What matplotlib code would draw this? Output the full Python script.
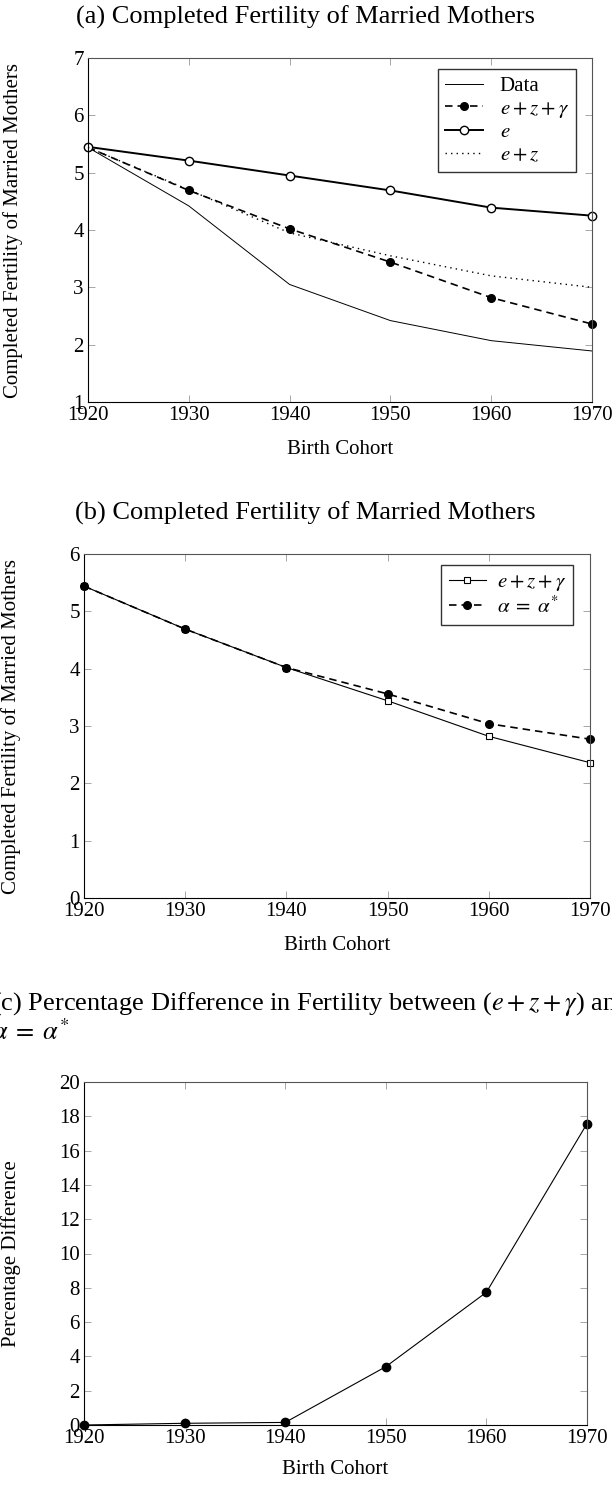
import matplotlib.pyplot as plt

plt.rcParams['font.family'] = ['Liberation Serif', 'DejaVu Serif']
plt.rcParams['mathtext.fontset'] = 'stix'

cohorts = [1920, 1930, 1940, 1950, 1960, 1970]
data_fert = [5.44, 4.42, 3.05, 2.42, 2.07, 1.89]
ezg_fert = [5.44, 4.69, 4.02, 3.44, 2.82, 2.36]
e_fert = [5.45, 5.21, 4.95, 4.69, 4.39, 4.25]
ez_fert = [5.44, 4.70, 3.95, 3.55, 3.20, 3.00]
alpha_fert = [5.44, 4.69, 4.02, 3.56, 3.04, 2.77]
pct_diff = [0.0, 0.10, 0.15, 3.40, 7.74, 17.57]

W, H = 612, 1485
fig = plt.figure(figsize=(W / 100, H / 100), dpi=100)


def make_ax(l, t, r, b):
    return fig.add_axes([l / W, 1 - b / H, (r - l) / W, (b - t) / H])


def style(ax, ylim, yticks):
    ax.set_xlim(1920, 1970)
    ax.set_ylim(*ylim)
    ax.set_xticks(cohorts)
    ax.set_yticks(yticks)
    ax.tick_params(direction='in', length=5, width=0.6, color='#999999',
                   top=True, right=True, labelsize=15, pad=3)
    for s in ax.spines.values():
        s.set_linewidth(0.8)
    for s in ['top', 'right']:
        ax.spines[s].set_color('#555555')


def leg(ax, dx, dy, w, h, tp):
    ax.legend(loc='upper right', bbox_to_anchor=(1 - dx / w, 1 - dy / h),
              borderaxespad=0, fontsize=15, fancybox=False,
              edgecolor='#333333', framealpha=1, handlelength=1.8,
              labelspacing=0.15, borderpad=0.35, handletextpad=tp)


# (a)
ax1 = make_ax(88, 58, 592, 402)
ax1.plot(cohorts, data_fert, color='black', lw=0.7, label='Data')
ax1.plot(cohorts, ezg_fert, color='black', lw=1.2, dashes=(4.5, 3), marker='o',
         ms=5.5, label=r'$e+z+\gamma$')
ax1.plot(cohorts, e_fert, color='black', lw=1.4, marker='o', ms=6,
         mfc='white', mew=1.0, label=r'$e$')
ax1.plot(cohorts, ez_fert, color='black', lw=1.0, dashes=(1, 3), label=r'$e+z$')
style(ax1, (1, 7), range(1, 8))
ax1.set_ylabel('Completed Fertility of Married Mothers', fontsize=15)
ax1.set_xlabel('Birth Cohort', fontsize=15)
ax1.yaxis.set_label_coords((23 - 88) / 504, 0.5)
ax1.xaxis.set_label_coords(0.5, -(440 - 402) / 344)
leg(ax1, 16, 11, 504, 344, 0.8)
fig.text(305 / W, 1 - 17 / H, '(a) Completed Fertility of Married Mothers',
         fontsize=19, ha='center', va='center')

# (b)
ax2 = make_ax(84, 554, 590, 898)
ax2.plot(cohorts, ezg_fert, color='black', lw=0.8, marker='s', ms=5,
         mfc='white', mew=0.8, label=r'$e+z+\gamma$')
ax2.plot(cohorts, alpha_fert, color='black', lw=1.2, dashes=(4.5, 3), marker='o',
         ms=5.5, label=r'$\alpha\;=\;\alpha^{*}$')
style(ax2, (0, 6), range(0, 7))
ax2.set_ylabel('Completed Fertility of Married Mothers', fontsize=15)
ax2.set_xlabel('Birth Cohort', fontsize=15)
ax2.yaxis.set_label_coords((21 - 84) / 506, 0.5)
ax2.xaxis.set_label_coords(0.5, -(936 - 898) / 344)
leg(ax2, 17, 11, 506, 344, 0.5)
fig.text(305 / W, 1 - 513 / H, '(b) Completed Fertility of Married Mothers',
         fontsize=19, ha='center', va='center')

# (c)
ax3 = make_ax(84, 1082, 587, 1425)
ax3.plot(cohorts, pct_diff, color='black', lw=0.8, marker='o', ms=6)
style(ax3, (0, 20), range(0, 21, 2))
ax3.set_ylabel('Percentage Difference', fontsize=15)
ax3.set_xlabel('Birth Cohort', fontsize=15)
ax3.yaxis.set_label_coords((21 - 84) / 503, 0.5)
ax3.xaxis.set_label_coords(0.5, -(1460 - 1425) / 343)
for a in (ax1, ax2, ax3):
    for ln in a.get_lines():
        ln.set_clip_on(False)
fig.text(-8 / W, 1 - 990 / H,
         '(c) Percentage Difference in Fertility between ($e+z+\\gamma$) and\n'
         '$\\alpha\\;=\\;\\alpha^{*}$',
         fontsize=19, ha='left', va='top', linespacing=1.05)

fig.savefig('out.png', dpi=100)
